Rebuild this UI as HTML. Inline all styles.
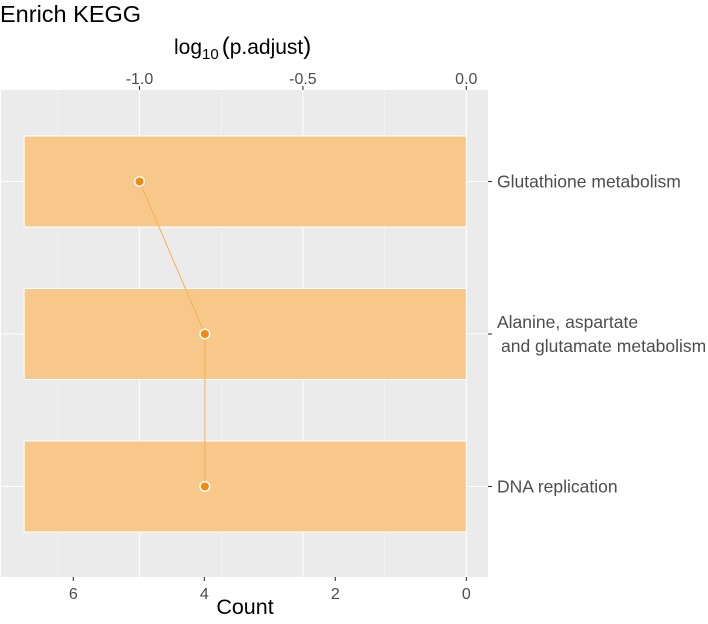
<!DOCTYPE html>
<html><head><meta charset="utf-8"><style>
html,body{margin:0;padding:0;background:#fff;}
svg{display:block;font-family:"Liberation Sans",Arial,sans-serif;}
</style></head><body>
<svg id="chart" width="708" height="624" viewBox="0 0 708 624">
<text x="0" y="22" font-size="23.5" fill="#000">Enrich KEGG</text>
<text x="174" y="54" font-size="21" fill="#000">log<tspan font-size="15" dy="5">10</tspan><tspan dy="-5" dx="3" font-size="24">(</tspan><tspan font-size="21">p.adjust</tspan><tspan font-size="24">)</tspan></text>
<text x="245" y="614" font-size="21.5" text-anchor="middle" fill="#000">Count</text>
<g id="plot"></g>
</svg>
<script>
const categories = ["Glutathione metabolism", "Alanine, aspartate|and glutamate metabolism", "DNA replication"];
const counts = [6.75, 6.75, 6.75];
const logPadj = [-1.0, -0.8, -0.8];
const countTicks = [6, 4, 2, 0];
const logTicks = [-1.0, -0.5, 0.0];
const logMinor = [-1.25, -0.75, -0.25];

const NS = "http://www.w3.org/2000/svg";
const g = document.getElementById('plot');
const PL = 1, PR = 488, PT = 90, PB = 577;
const xCount = c => 466.3 - c * 65.5;
const xLog = v => 466.3 + v * 326.8;
const step = 152.5;
const yCat = i => 181.5 + i * step;
const barH = 91;
function mk(tag, attrs, parent) {
  const e = document.createElementNS(NS, tag);
  for (const k in attrs) e.setAttribute(k, attrs[k]);
  (parent || g).appendChild(e);
  return e;
}
let e = mk('rect', {x: PL, y: PT, width: PR - PL, height: PB - PT, fill: '#ebebeb'});


logMinor.forEach(v => {
  const l = mk('line', {x1: xLog(v), x2: xLog(v), y1: PT, y2: PB, stroke: '#f7f7f7', 'stroke-width': 0.6});
  
  
});
logTicks.forEach(v => {
  const l = mk('line', {x1: xLog(v), x2: xLog(v), y1: PT, y2: PB, stroke: '#fff', 'stroke-width': 1.1});
  
  
});
categories.forEach((c, i) => {
  const l = mk('line', {x1: PL, x2: PR, y1: yCat(i), y2: yCat(i), stroke: '#fff', 'stroke-width': 1.1});
  
  
});
categories.forEach((c, i) => {
  const r = mk('rect', {x: xCount(counts[i]), y: yCat(i) - barH / 2, width: xCount(0) - xCount(counts[i]), height: barH, fill: '#f8c88a', stroke: '#fff', 'stroke-width': 1});
  
  
});
const pts = logPadj.map((v, i) => xLog(v) + ',' + yCat(i)).join(' ');
e = mk('polyline', {points: pts, fill: 'none', stroke: '#f5b060', 'stroke-width': 1});


logPadj.forEach((v, i) => {
  const p = mk('circle', {cx: xLog(v), cy: yCat(i), r: 4.8, fill: '#f5870f', stroke: '#fff', 'stroke-width': 1.5});
  
  
});
countTicks.forEach(t => {
  const l = mk('line', {x1: xCount(t), x2: xCount(t), y1: PB, y2: PB + 4, stroke: '#333', 'stroke-width': 1.1});
  
  
  const tx = mk('text', {x: xCount(t), y: PB + 22, 'font-size': 16, 'text-anchor': 'middle', fill: '#4d4d4d'});
  tx.textContent = t;
  
  
});
logTicks.forEach(t => {
  const l = mk('line', {x1: xLog(t), x2: xLog(t), y1: PT - 4, y2: PT, stroke: '#333', 'stroke-width': 1.1});
  
  
  const tx = mk('text', {x: xLog(t), y: PT - 6, 'font-size': 16, 'text-anchor': 'middle', fill: '#4d4d4d'});
  tx.textContent = t.toFixed(1);
  
  
});
categories.forEach((c, i) => {
  const l = mk('line', {x1: PR, x2: PR + 4, y1: yCat(i), y2: yCat(i), stroke: '#333', 'stroke-width': 1.1});
  
  
  const parts = c.split('|');
  const tx = mk('text', {x: PR + 9, y: 0, 'font-size': 17.5, fill: '#4d4d4d'});
  
  
  const y0 = yCat(i) + 6 - (parts.length - 1) * 12;
  parts.forEach((p, j) => {
    const ts = mk('tspan', {x: PR + 9 + (j > 0 ? 4 : 0), y: y0 + j * 24}, tx);
    ts.textContent = p;
  });
});
</script>
</body></html>
